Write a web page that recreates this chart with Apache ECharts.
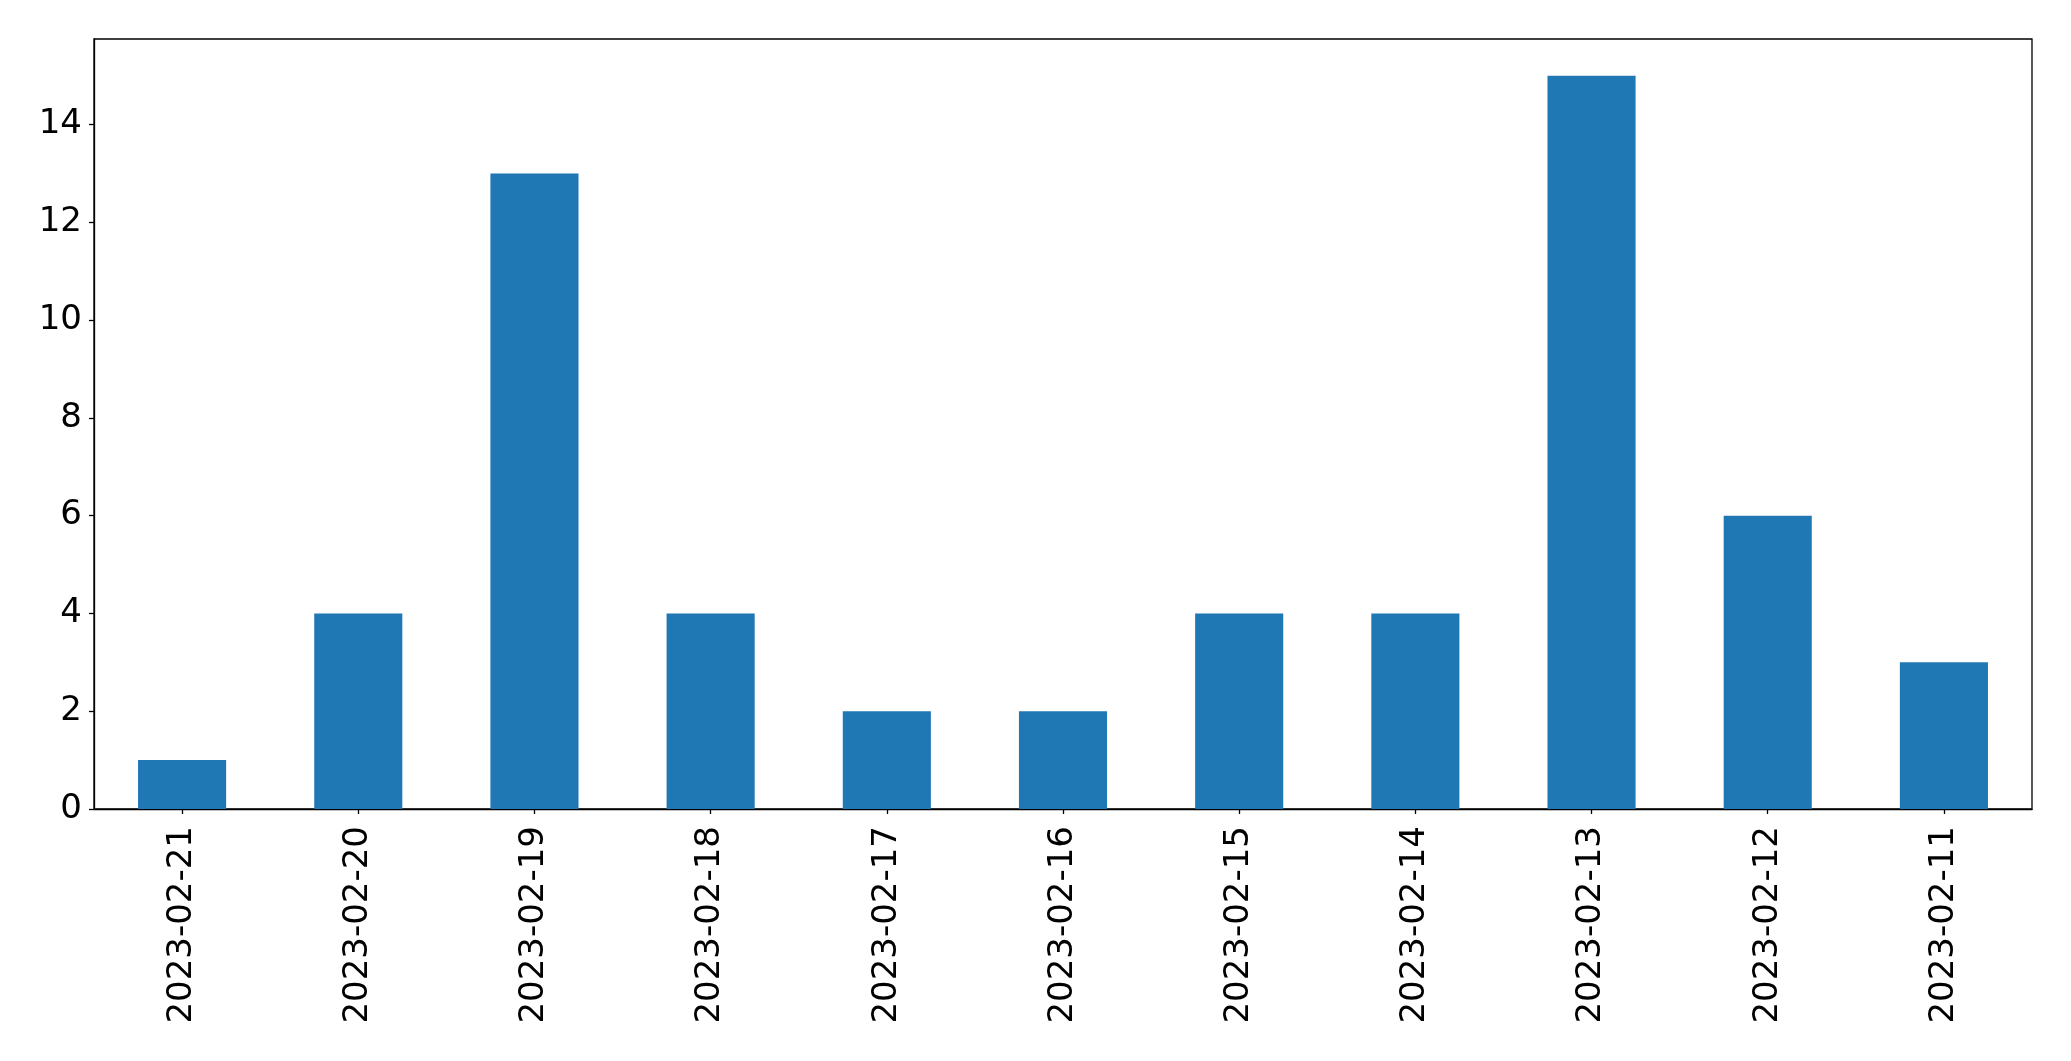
<!DOCTYPE html>
<html>
<head>
<meta charset="utf-8">
<script src="https://cdn.jsdelivr.net/npm/echarts@6/dist/echarts.min.js"></script>
<style>html,body{margin:0;padding:0;background:#fff}#c{width:2071px;height:1061px}</style>
</head>
<body>
<div id="c"></div>
<script>
const categories = ['2023-02-21','2023-02-20','2023-02-19','2023-02-18','2023-02-17','2023-02-16','2023-02-15','2023-02-14','2023-02-13','2023-02-12','2023-02-11'];
const values = [1, 4, 13, 4, 2, 2, 4, 4, 15, 6, 3];
const yTicks = [0, 2, 4, 6, 8, 10, 12, 14];

const chart = echarts.init(document.getElementById('c'), null, {renderer: 'canvas'});
const font = 'DejaVu Sans';
chart.setOption({
  animation: false,
  backgroundColor: '#ffffff',
  grid: {left: 94, top: 39, right: 39, bottom: 252, show: true, borderColor: '#000', borderWidth: 1.3, backgroundColor: 'transparent'},
  xAxis: {
    type: 'category',
    data: categories,
    boundaryGap: true,
    axisLine: {show: true, lineStyle: {color: '#000', width: 1.3}},
    axisTick: {show: true, alignWithLabel: true, length: 5, lineStyle: {color: '#000', width: 1.3}},
    axisLabel: {rotate: 90, margin: 17, fontFamily: font, fontSize: 34, color: '#000', interval: 0},
    splitLine: {show: false}
  },
  yAxis: {
    type: 'value',
    min: 0,
    max: 15.75,
    interval: 2,
    axisLine: {show: true, lineStyle: {color: '#000', width: 1.3}},
    axisTick: {show: true, length: 5, customValues: yTicks, lineStyle: {color: '#000', width: 1.3}},
    axisLabel: {margin: 12, fontFamily: font, fontSize: 34, color: '#000', customValues: yTicks},
    splitLine: {show: false}
  },
  series: [{
    type: 'bar',
    data: values,
    barWidth: '50%',
    itemStyle: {color: '#1f77b4'}
  }]
});
</script>
</body>
</html>
